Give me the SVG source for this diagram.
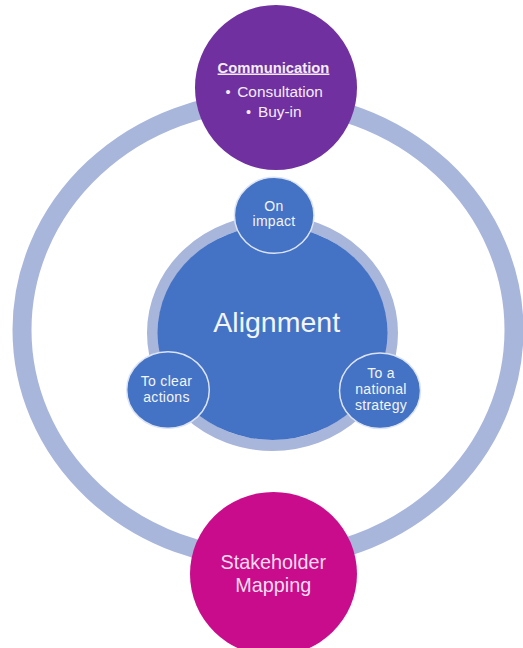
<svg xmlns="http://www.w3.org/2000/svg" width="523" height="648" viewBox="0 0 523 648">
  <style>
    .ring { fill: none; stroke: #A9B6DB; }
    .blue { fill: #4472C4; }
    .sub { fill: #4472C4; stroke: #DCE4F4; stroke-width: 1.5; }
    .t { font-family: "Liberation Sans", Arial, sans-serif; text-anchor: middle; }
    .sm { font-size: 14px; letter-spacing: 0.3px; fill: #F2F5FB; }
  </style>

  <!-- outer cycle linking the two outer nodes -->
  <g id="connectors">
    <ellipse class="ring" cx="268" cy="330" rx="246" ry="229" stroke-width="19"/>
  </g>

  <g id="communication">
    <ellipse cx="276" cy="87.5" rx="81" ry="82.5" fill="#7030A0"/>
    <text class="t" x="273.5" y="72.5" font-size="14.8px" font-weight="bold" fill="#F4ECF8" text-decoration="underline">Communication</text>
    <text class="t" x="228" y="97" font-size="14.5px" fill="#F4ECF8">•</text>
    <text class="t" x="280" y="97.3" font-size="15.4px" fill="#F4ECF8">Consultation</text>
    <text class="t" x="248.5" y="117" font-size="14.5px" fill="#F4ECF8">•</text>
    <text class="t" x="279.7" y="117.3" font-size="15.4px" fill="#F4ECF8">Buy-in</text>
  </g>

  <g id="stakeholder-mapping">
    <ellipse cx="273.5" cy="574" rx="83.5" ry="82" fill="#C90C8C"/>
    <text class="t" x="273.3" y="569.3" font-size="19.8px" fill="#F6DCEE">Stakeholder</text>
    <text class="t" x="273.3" y="591.7" font-size="19.8px" fill="#F6DCEE">Mapping</text>
  </g>

  <g id="alignment">
    <ellipse class="ring" cx="272.5" cy="333" rx="120" ry="112.5" stroke-width="11"/>
    <ellipse class="blue" cx="272.5" cy="333" rx="115" ry="107"/>
    <text class="t" x="276.7" y="331.7" font-size="28.5px" fill="#F2F5FB">Alignment</text>
  </g>

  <g id="on-impact">
    <ellipse class="sub" cx="274.2" cy="215.3" rx="39.8" ry="38"/>
    <text class="t sm" x="274" y="210.5">On</text>
    <text class="t sm" x="274" y="226.3">impact</text>
  </g>

  <g id="to-clear-actions">
    <ellipse class="sub" cx="168" cy="390" rx="41.3" ry="38.3"/>
    <text class="t sm" x="166.5" y="385.8">To clear</text>
    <text class="t sm" x="166.5" y="401.8">actions</text>
  </g>

  <g id="to-a-national-strategy">
    <ellipse class="sub" cx="380" cy="390.7" rx="40.5" ry="37.8"/>
    <text class="t sm" x="381" y="378">To a</text>
    <text class="t sm" x="381" y="393.8">national</text>
    <text class="t sm" x="381" y="409.6">strategy</text>
  </g>
</svg>
